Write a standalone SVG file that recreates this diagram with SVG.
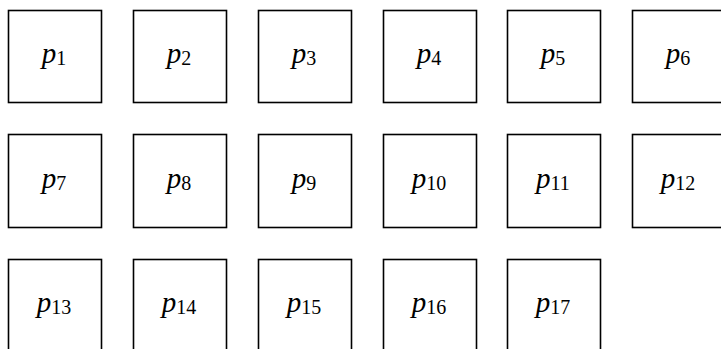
<svg xmlns="http://www.w3.org/2000/svg" width="721" height="349" viewBox="0 0 721 349">
<style>
.b{fill:#fff;stroke:#000;stroke-width:1.6}
.t{font-family:"Liberation Serif",serif;text-anchor:middle;fill:#000}
.p{font-style:italic;font-size:29px}
.s{font-size:20px}
</style>
<rect width="721" height="349" fill="#fff"/>
<g id="p1"><rect class="b" x="8.5" y="10.5" width="93" height="92"/><text class="t" x="54" y="63"><tspan class="p">p</tspan><tspan class="s" dy="2">1</tspan></text></g>
<g id="p2"><rect class="b" x="133.5" y="10.5" width="93" height="92"/><text class="t" x="179" y="63"><tspan class="p">p</tspan><tspan class="s" dy="2">2</tspan></text></g>
<g id="p3"><rect class="b" x="258.5" y="10.5" width="93" height="92"/><text class="t" x="304" y="63"><tspan class="p">p</tspan><tspan class="s" dy="2">3</tspan></text></g>
<g id="p4"><rect class="b" x="383.5" y="10.5" width="93" height="92"/><text class="t" x="429" y="63"><tspan class="p">p</tspan><tspan class="s" dy="2">4</tspan></text></g>
<g id="p5"><rect class="b" x="507.5" y="10.5" width="93" height="92"/><text class="t" x="553" y="63"><tspan class="p">p</tspan><tspan class="s" dy="2">5</tspan></text></g>
<g id="p6"><rect class="b" x="632.5" y="10.5" width="93" height="92"/><text class="t" x="678" y="63"><tspan class="p">p</tspan><tspan class="s" dy="2">6</tspan></text></g>
<g id="p7"><rect class="b" x="8.5" y="134.5" width="93" height="93"/><text class="t" x="54" y="188"><tspan class="p">p</tspan><tspan class="s" dy="2">7</tspan></text></g>
<g id="p8"><rect class="b" x="133.5" y="134.5" width="93" height="93"/><text class="t" x="179" y="188"><tspan class="p">p</tspan><tspan class="s" dy="2">8</tspan></text></g>
<g id="p9"><rect class="b" x="258.5" y="134.5" width="93" height="93"/><text class="t" x="304" y="188"><tspan class="p">p</tspan><tspan class="s" dy="2">9</tspan></text></g>
<g id="p10"><rect class="b" x="383.5" y="134.5" width="93" height="93"/><text class="t" x="429" y="188"><tspan class="p">p</tspan><tspan class="s" dy="2">10</tspan></text></g>
<g id="p11"><rect class="b" x="507.5" y="134.5" width="93" height="93"/><text class="t" x="553" y="188"><tspan class="p">p</tspan><tspan class="s" dy="2">11</tspan></text></g>
<g id="p12"><rect class="b" x="632.5" y="134.5" width="93" height="93"/><text class="t" x="678" y="188"><tspan class="p">p</tspan><tspan class="s" dy="2">12</tspan></text></g>
<g id="p13"><rect class="b" x="8.5" y="259.5" width="93" height="93"/><text class="t" x="54" y="312"><tspan class="p">p</tspan><tspan class="s" dy="2">13</tspan></text></g>
<g id="p14"><rect class="b" x="133.5" y="259.5" width="93" height="93"/><text class="t" x="179" y="312"><tspan class="p">p</tspan><tspan class="s" dy="2">14</tspan></text></g>
<g id="p15"><rect class="b" x="258.5" y="259.5" width="93" height="93"/><text class="t" x="304" y="312"><tspan class="p">p</tspan><tspan class="s" dy="2">15</tspan></text></g>
<g id="p16"><rect class="b" x="383.5" y="259.5" width="93" height="93"/><text class="t" x="429" y="312"><tspan class="p">p</tspan><tspan class="s" dy="2">16</tspan></text></g>
<g id="p17"><rect class="b" x="507.5" y="259.5" width="93" height="93"/><text class="t" x="553" y="312"><tspan class="p">p</tspan><tspan class="s" dy="2">17</tspan></text></g>
<g id="connectors"></g>
</svg>
